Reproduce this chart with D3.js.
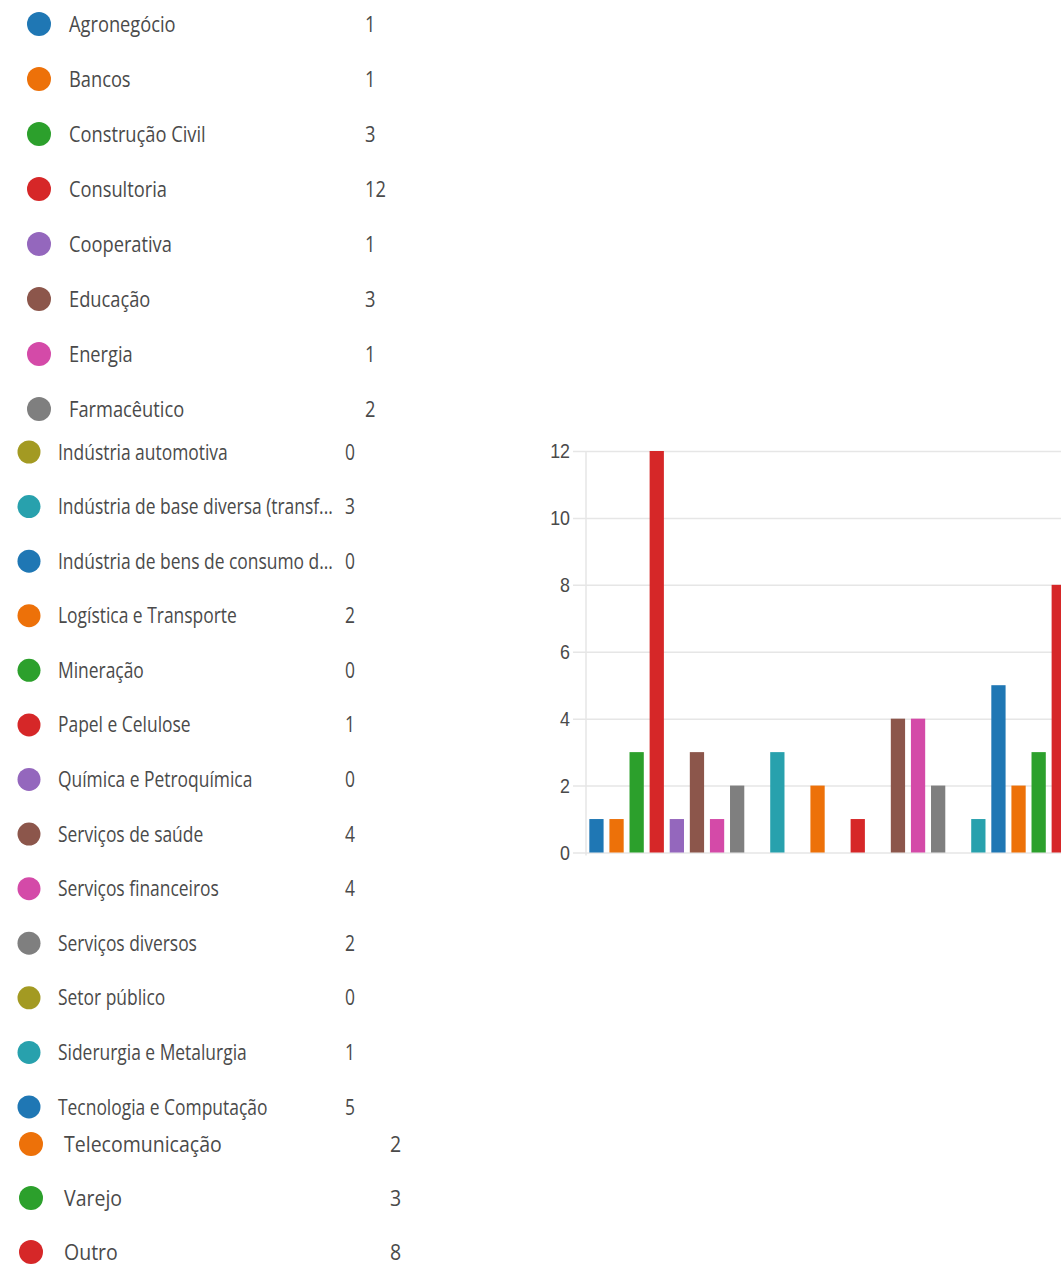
<!DOCTYPE html>
<html>
<head>
<meta charset="utf-8">
<script src="https://cdn.jsdelivr.net/npm/d3@7"></script>
<style>
  body { margin: 0; background: #fff; }
  svg { display: block; font-family: "Open Sans", "Noto Sans", sans-serif; }
</style>
</head>
<body>
<div class="chart"></div>
<script>
// categories as shown in the legend (long ones are cut off in the original)
var categories = [
    "Agronegócio", "Bancos", "Construção Civil", "Consultoria", "Cooperativa",
    "Educação", "Energia", "Farmacêutico", "Indústria automotiva",
    "Indústria de base diversa (transf...", "Indústria de bens de consumo d...",
    "Logística e Transporte", "Mineração", "Papel e Celulose", "Química e Petroquímica",
    "Serviços de saúde", "Serviços financeiros", "Serviços diversos", "Setor público",
    "Siderurgia e Metalurgia", "Tecnologia e Computação", "Telecomunicação", "Varejo", "Outro"
];
var counts = [1, 1, 3, 12, 1, 3, 1, 2, 0, 3, 0, 2, 0, 1, 0, 4, 4, 2, 0, 1, 5, 2, 3, 8];
var palette = ["#1f77b4", "#ed7109", "#2ca02c", "#d62728", "#9467bd",
               "#8c564b", "#d44aa8", "#7f7f7f", "#a39a22", "#28a1ad"];
var yTicks = [0, 2, 4, 6, 8, 10, 12];

var svgWidth = 1061,
    svgHeight = 1264;

var svg = d3.select(".chart")
    .append("svg")
    .attr("width", svgWidth)
    .attr("height", svgHeight);

var color = d3.scaleOrdinal().domain(d3.range(10)).range(palette);

// the legend is pasted together from three screenshots, each a bit offset
var sections = [
    { from: 0,  to: 8,  cx: 39, tx: 69, vx: 365, y0: 24,   dy: 55,    r: 12,   fs: 21, sx: 0.87 },
    { from: 8,  to: 21, cx: 29, tx: 58, vx: 345, y0: 452,  dy: 54.58, r: 11.5, fs: 21, sx: 0.83 },
    { from: 21, to: 24, cx: 31, tx: 64, vx: 390, y0: 1144, dy: 54,    r: 12,   fs: 21, sx: 0.93 }
];

var legend = svg.append("g").attr("class", "legend");

sections.forEach(function(s) {
    var idx = d3.range(s.from, s.to);
    var rows = legend.selectAll(null)
        .data(idx)
        .enter().append("g")
        .attr("transform", function(d, i) { return "translate(0," + (s.y0 + i * s.dy) + ")"; });

    rows.append("circle")
        .attr("cx", s.cx)
        .attr("r", s.r)
        .attr("fill", function(d) { return color(d % 10); });

    rows.append("text")
        .attr("transform", "translate(" + s.tx + ",0) scale(" + s.sx + ",1)")
        .attr("dy", "0.36em")
        .attr("fill", "#4a4a4a")
        .style("font-size", s.fs + "px")
        .text(function(d) { return categories[d]; });

    rows.append("text")
        .attr("transform", "translate(" + s.vx + ",0) scale(" + s.sx + ",1)")
        .attr("dy", "0.36em")
        .attr("fill", "#4a4a4a")
        .style("font-size", s.fs + "px")
        .text(function(d) { return counts[d]; });
});

// bar chart (cut off at the right edge)
var axisX = 586,
    step = 20.1;

var x = d3.scaleBand()
    .domain(categories)
    .range([axisX, axisX + step * (categories.length - 0.29 + 2 * 0.165)])
    .paddingInner(0.29)
    .paddingOuter(0.165);

var y = d3.scaleLinear()
    .domain([0, 12])
    .range([852.5, 451]);

var yAxis = d3.axisLeft(y)
    .tickValues(yTicks)
    .tickSizeOuter(0);

var gy = svg.append("g")
    .attr("class", "axis axis--y")
    .attr("transform", "translate(" + axisX + ",0)")
    .call(yAxis);

gy.select(".domain")
    .attr("stroke", "#e6e6e6")
    .attr("stroke-width", 1.5)
    .attr("d", "M0," + y(12) + "V" + (y(0) + 3));

gy.selectAll(".tick line")
    .attr("x1", -13)
    .attr("x2", svgWidth - axisX)
    .attr("stroke", "#e6e6e6")
    .attr("stroke-width", 1.5);

gy.selectAll(".tick text")
    .attr("x", 0)
    .attr("transform", "translate(-16,0) scale(0.85,1)")
    .attr("fill", "#4a4a4a")
    .style("font-size", "21px");

svg.append("g")
    .attr("class", "bars")
    .selectAll("rect")
    .data(categories)
    .enter().append("rect")
    .attr("x", function(d) { return x(d); })
    .attr("width", x.bandwidth())
    .attr("y", function(d, i) { return y(counts[i]); })
    .attr("height", function(d, i) { return y(0) - y(counts[i]); })
    .attr("fill", function(d, i) { return color(i % 10); });
</script>
</body>
</html>
